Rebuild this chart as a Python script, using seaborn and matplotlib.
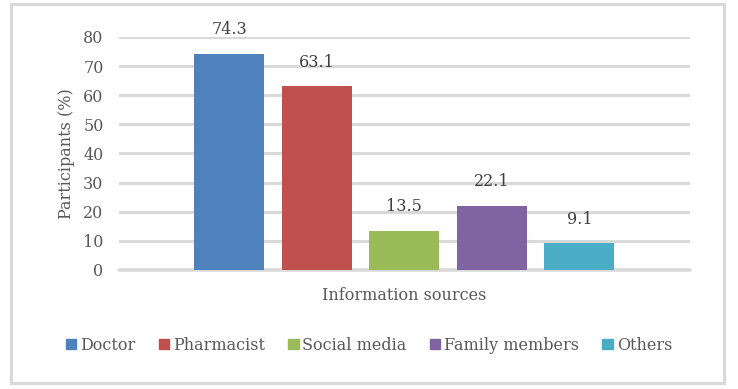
import pandas as pd
import matplotlib
matplotlib.use("Agg")
import matplotlib.pyplot as plt
from matplotlib.patches import Rectangle
import seaborn as sns

sources = ['Doctor', 'Pharmacist', 'Social media', 'Family members', 'Others']
percent = [74.3, 63.1, 13.5, 22.1, 9.1]
colors = ['#4F81BD', '#C0504D', '#9BBB59', '#8064A2', '#4BACC6']

df = pd.DataFrame({'group': [''] * len(sources), 'source': sources, 'pct': percent})

sns.set_style('white')
plt.rcParams['font.family'] = ['DejaVu Serif']

fig = plt.figure(figsize=(7.38, 3.89), dpi=100)
ax = fig.add_axes([0.161, 0.306, 0.774, 0.599])

sns.barplot(data=df, x='group', y='pct', hue='source', hue_order=sources,
            palette=colors, width=0.766, gap=0.2, saturation=1, ax=ax,
            legend=False, errorbar=None, linewidth=0)

for c in ax.containers:
    ax.bar_label(c, fmt='%.1f', padding=11, fontsize=11.5, color='#404040')

ax.set_ylim(0, 80)
ax.set_yticks(range(0, 81, 10))
ax.set_xlim(-0.5, 0.5)
ax.set_xticks([])
ax.grid(axis='y', color='#d9d9d9', linewidth=2.2)
ax.axhline(0, color='#d9d9d9', linewidth=2.6, clip_on=False, zorder=0.5)
ax.set_axisbelow(True)
for s in ax.spines.values():
    s.set_visible(False)
ax.tick_params(axis='y', length=0, pad=11, labelsize=11.5, labelcolor='#595959')
ax.set_ylabel('Participants (%)', fontsize=11.5, color='#595959', labelpad=6)
ax.set_xlabel('Information sources', fontsize=11.5, color='#595959', labelpad=12)

handles = [Rectangle((0, 0), 1, 1, color=c) for c in colors]
fig.legend(handles, sources, loc='center', bbox_to_anchor=(0.5, 0.113), ncol=5,
           frameon=False, handlelength=0.65, handleheight=0.65, handletextpad=0.25,
           columnspacing=1.45, fontsize=11.5, labelcolor='#595959')

fig.patches.append(Rectangle((11 / 738, 1 - 383 / 389), 713 / 738, 379 / 389,
                             transform=fig.transFigure, fill=False,
                             edgecolor='#d9d9d9', linewidth=2.2))

fig.savefig('out.png', dpi=100)
